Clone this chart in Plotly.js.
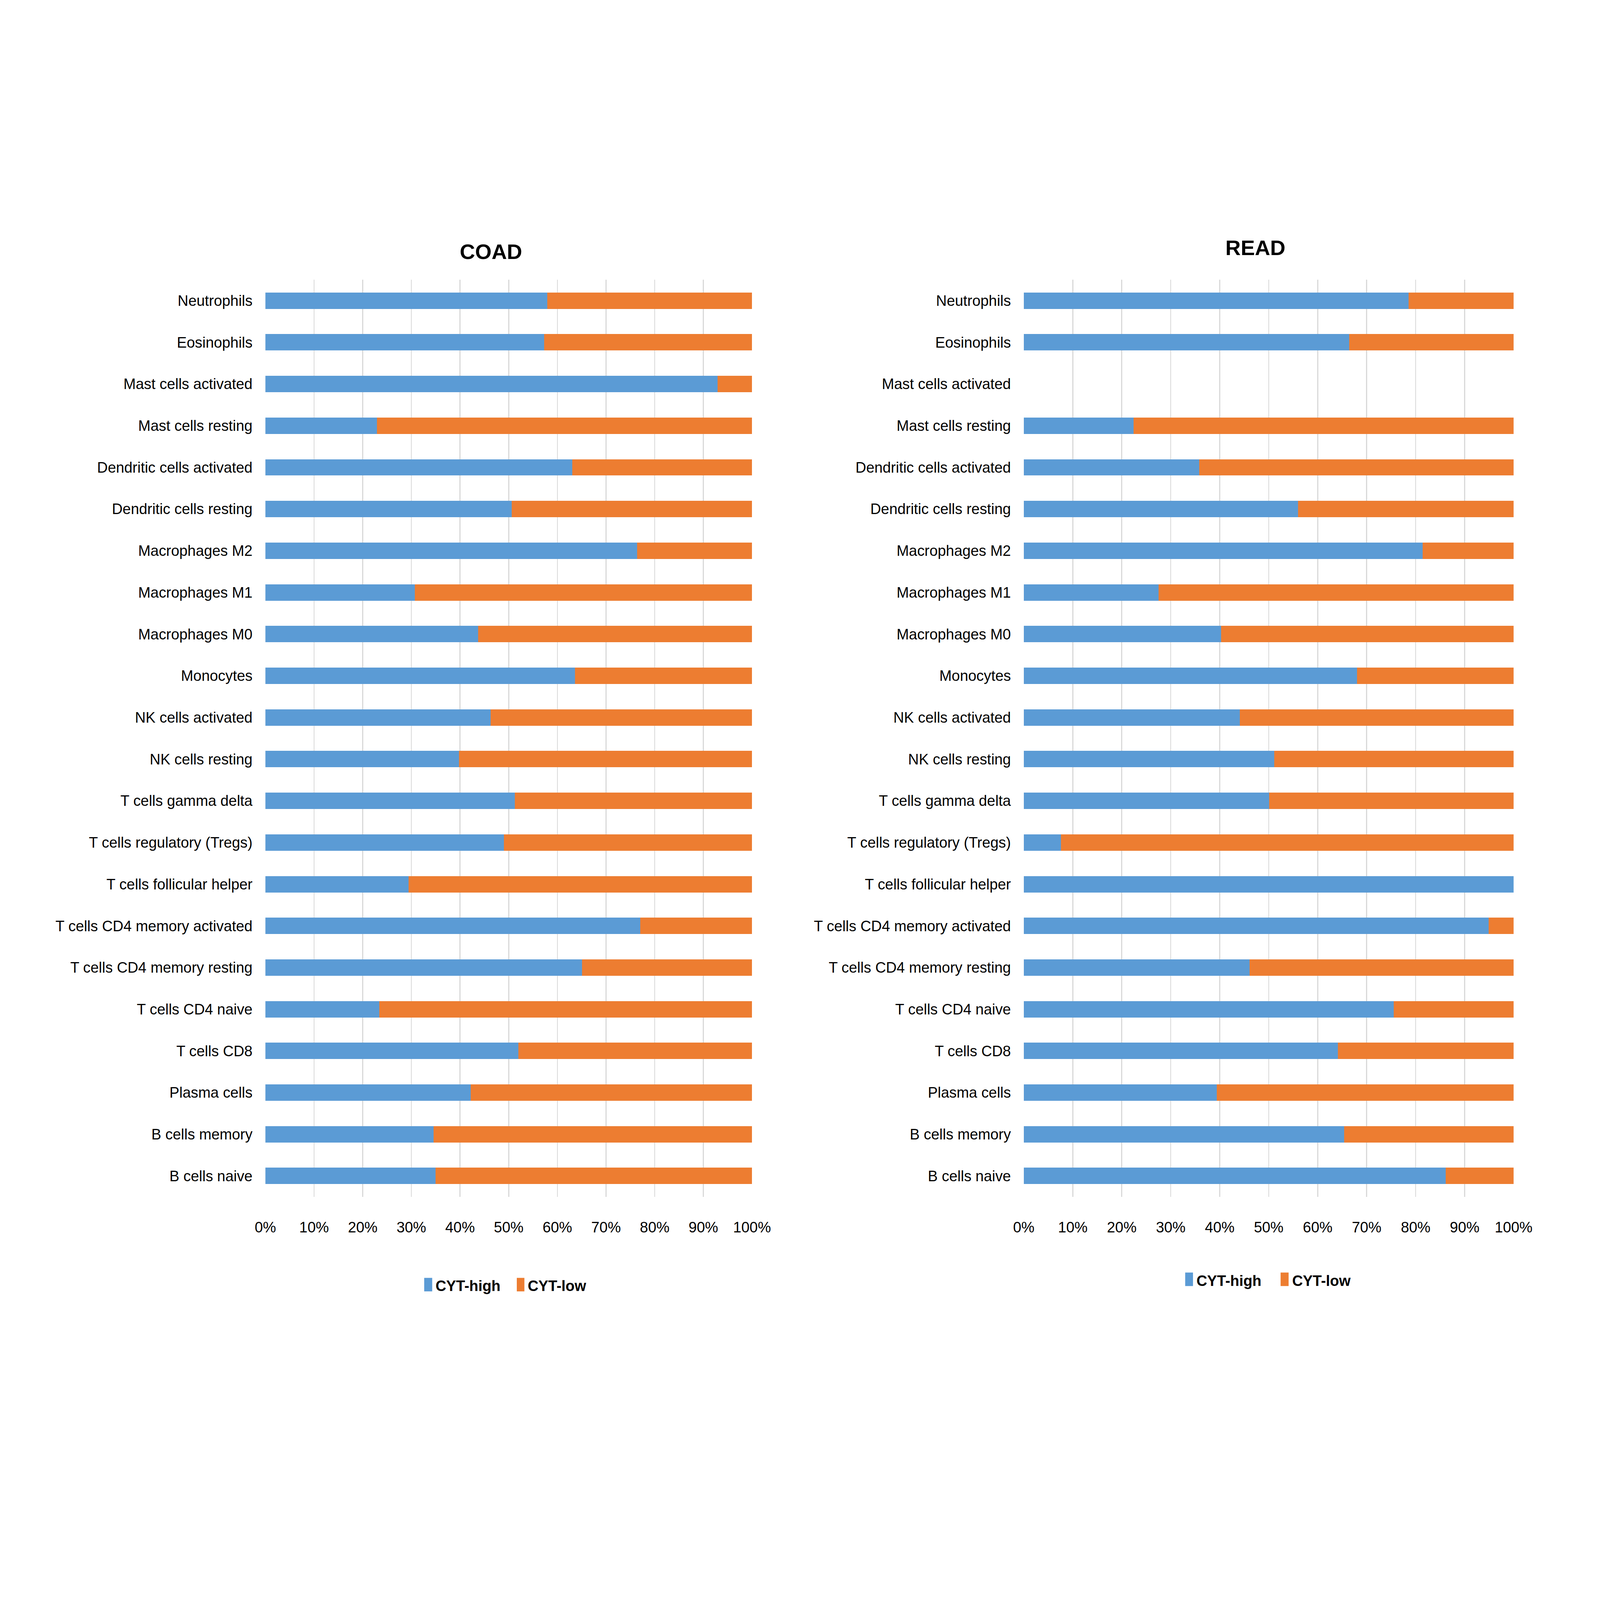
<!DOCTYPE html>
<html>
<head>
<meta charset="utf-8">
<script src="https://cdn.plot.ly/plotly-3.0.1.min.js"></script>
<style>
    html, body { margin: 0; padding: 0; background: #ffffff; overflow: hidden; }
</style>
</head>
<body>
<div id="chart"></div>
<script>
'use strict';

// Cell types, top to bottom
let cellTypes = [
    'Neutrophils', 'Eosinophils', 'Mast cells activated', 'Mast cells resting',
    'Dendritic cells activated', 'Dendritic cells resting', 'Macrophages M2',
    'Macrophages M1', 'Macrophages M0', 'Monocytes', 'NK cells activated',
    'NK cells resting', 'T cells gamma delta', 'T cells regulatory (Tregs)',
    'T cells follicular helper', 'T cells CD4 memory activated',
    'T cells CD4 memory resting', 'T cells CD4 naive', 'T cells CD8',
    'Plasma cells', 'B cells memory', 'B cells naive'
];

// COAD, percent of samples
let coadHigh = [57.9, 57.3, 92.9, 22.9, 63.1, 50.6, 76.4, 30.7, 43.7, 63.6, 46.3,
                39.8, 51.3, 49.0, 29.4, 77.0, 65.1, 23.4, 52.0, 42.2, 34.6, 35.0];
let coadLow = [42.1, 42.7, 7.1, 77.1, 36.9, 49.4, 23.6, 69.3, 56.3, 36.4, 53.7,
               60.2, 48.7, 51.0, 70.6, 23.0, 34.9, 76.6, 48.0, 57.8, 65.4, 65.0];

// READ, percent of samples
let readHigh = [78.6, 66.4, 0, 22.4, 35.8, 56.0, 81.4, 27.5, 40.3, 68.0, 44.1,
                51.1, 50.1, 7.6, 100, 94.9, 46.1, 75.5, 64.1, 39.4, 65.4, 86.1];
let readLow = [21.4, 33.6, 0, 77.6, 64.2, 44.0, 18.6, 72.5, 59.7, 32.0, 55.9,
               48.9, 49.9, 92.4, 0, 5.1, 53.9, 24.5, 35.9, 60.6, 34.6, 13.9];

let seriesNames = ['CYT-high', 'CYT-low'];
let seriesColors = ['#5B9BD5', '#ED7D31'];

// reference frame is 8000x4500, the page fills whatever window it gets
let REF_W = 8000;
let REF_H = 4500;
let W = window.innerWidth || REF_W;
let H = window.innerHeight || REF_H;
let sx = W / REF_W;
let sy = H / REF_H;
let FONT = 'Liberation Sans, Arial, sans-serif';

function px(x) {
    return x / REF_W;
}

function py(y) {
    return 1 - y / REF_H;
}

function makeTrace(values, idx, xa, ya) {
    return {
        type: 'bar',
        orientation: 'h',
        y: cellTypes,
        x: values,
        name: seriesNames[idx],
        xaxis: xa,
        yaxis: ya,
        showlegend: false,
        marker: { color: seriesColors[idx], line: { width: 0 } },
        hoverinfo: 'skip'
    };
}

function makeXAxis(domain) {
    return {
        domain: domain,
        range: [0, 100],
        dtick: 10,
        tick0: 0,
        ticksuffix: '%',
        showgrid: true,
        gridcolor: '#d9d9d9',
        gridwidth: Math.max(1, 5 * sx),
        zeroline: false,
        showline: false,
        ticks: '',
        // standoff has to be a whole number
        ticklabelstandoff: Math.round(57 * sy),
        tickfont: { family: FONT, size: 74 * sx, color: '#000000' },
        fixedrange: true
    };
}

function makeYAxis(anchor) {
    return {
        domain: [py(3366), py(787)],
        anchor: anchor,
        type: 'category',
        autorange: 'reversed',
        showgrid: false,
        zeroline: false,
        showline: false,
        ticks: '',
        ticklabelstandoff: Math.round(63 * sx),
        tickfont: { family: FONT, size: 74 * sx, color: '#000000' },
        fixedrange: true
    };
}

// legend boxes and labels drawn per panel (x positions in reference pixels)
function legendItems(boxes, texts, yMid) {
    let shapes = [];
    let annos = [];
    for (let i = 0; i < 2; i++) {
        shapes.push({
            type: 'rect', xref: 'paper', yref: 'paper',
            x0: px(boxes[i][0]), x1: px(boxes[i][1]),
            y0: py(yMid + 19), y1: py(yMid - 19),
            fillcolor: seriesColors[i], line: { width: 0 }
        });
        annos.push({
            xref: 'paper', yref: 'paper',
            x: px(texts[i]), y: py(yMid + 4),
            xanchor: 'left', yanchor: 'middle',
            showarrow: false, borderpad: 0,
            text: '<b>' + seriesNames[i] + '</b>',
            font: { family: FONT, size: 74 * sx, color: '#000000' }
        });
    }
    return { shapes: shapes, annos: annos };
}

function titleAnno(text, x, y) {
    return {
        xref: 'paper', yref: 'paper',
        x: px(x), y: py(y),
        xanchor: 'center', yanchor: 'middle',
        showarrow: false,
        text: '<b>' + text + '</b>',
        font: { family: FONT, size: 106 * sx, color: '#000000' }
    };
}

let data = [
    makeTrace(coadHigh, 0, 'x', 'y'),
    makeTrace(coadLow, 1, 'x', 'y'),
    makeTrace(readHigh, 0, 'x2', 'y2'),
    makeTrace(readLow, 1, 'x2', 'y2')
];

let legCoad = legendItems([[2121, 2161], [2584, 2622]], [2176, 2636], 3613);
let legRead = legendItems([[5926, 5965], [6403, 6443]], [5981, 6459], 3598);

let layout = {
    width: W,
    height: H,
    margin: { l: 0, r: 0, t: 0, b: 0, pad: 0 },
    paper_bgcolor: '#ffffff',
    plot_bgcolor: '#ffffff',
    barmode: 'stack',
    bargap: 0.607,
    showlegend: false,
    font: { family: FONT, color: '#000000' },
    xaxis: makeXAxis([px(1327), px(3760)]),
    yaxis: makeYAxis('x'),
    xaxis2: makeXAxis([px(5119), px(7568)]),
    yaxis2: makeYAxis('x2'),
    shapes: legCoad.shapes.concat(legRead.shapes),
    annotations: [titleAnno('COAD', 2455, 708), titleAnno('READ', 6277, 697)]
        .concat(legCoad.annos, legRead.annos)
};

let config = {
    displayModeBar: false,
    staticPlot: true
};

Plotly.newPlot('chart', data, layout, config);
</script>
</body>
</html>
